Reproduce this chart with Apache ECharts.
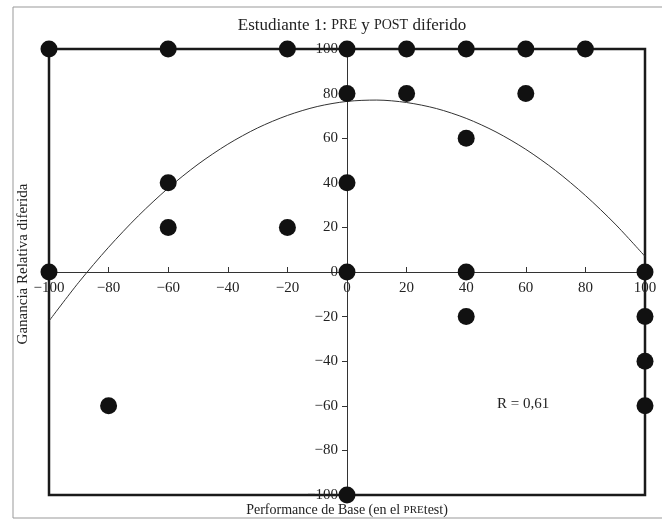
<!DOCTYPE html>
<html>
<head>
<meta charset="utf-8">
<script src="https://cdn.jsdelivr.net/npm/echarts@6/dist/echarts.min.js"></script>
<style>
    html, body { margin: 0; padding: 0; background: #fff; }
    #chart { width: 662px; height: 522px; }
</style>
</head>
<body>
<div id="chart"></div>
<script>
// students: base performance (PRE) vs delayed relative gain
const baseScores = [-100, -60, -20, 0, 20, 40, 60, 80, 0, 20, 60, 40, -60, 0, -60, -20, -100, 0, 40, 100, 40, 100, 100, 100, -80, 0];
const gainScores = [100, 100, 100, 100, 100, 100, 100, 100, 80, 80, 80, 60, 40, 40, 20, 20, 0, 0, 0, 0, -20, -20, -40, -60, -60, -100];

// fitted curve
const curveX = [-100, -90, -80, -70, -60, -50, -40, -30, -20, -10, 0, 10, 20, 30, 40, 50, 60, 70, 80, 90, 100];
const curveY = [-22, -4.6, 11.1, 25.2, 37.6, 48.3, 57.3, 64.6, 70.2, 74.2, 76.5, 77.1, 76.0, 73.3, 68.9, 62.8, 55.0, 45.5, 34.3, 21.5, 7];

const axisMin = -100;
const axisMax = 100;
const axisStep = 20;

const serif = '"Liberation Serif", "DejaVu Serif", serif';
const fmt = v => String(v).replace('-', '\u2212');

const gridLeft = 49, gridRight = 17, gridTop = 49, gridBottom = 27;
const gridW = 662 - gridLeft - gridRight;
const gridH = 522 - gridTop - gridBottom;

const chart = echarts.init(document.getElementById('chart'));

chart.setOption({
    animation: false,
    backgroundColor: '#fff',
    title: {
        text: '{a|Estudiante 1: }{b|PRE}{a| y }{b|POST}{a| diferido}',
        left: 347,
        textAlign: 'center',
        top: 12,
        textStyle: {
            rich: {
                a: {fontFamily: serif, fontSize: 17, fontWeight: 'normal', color: '#222'},
                b: {fontFamily: serif, fontSize: 14, fontWeight: 'normal', color: '#222'}
            }
        }
    },
    grid: {
        left: gridLeft, right: gridRight, top: gridTop, bottom: gridBottom,
        show: true,
        borderColor: '#1a1a1a',
        borderWidth: 2.5,
        backgroundColor: 'transparent'
    },
    xAxis: {
        type: 'value',
        min: axisMin, max: axisMax, interval: axisStep,
        offset: -gridH / 2,
        axisLine: {onZero: false, lineStyle: {color: '#333', width: 1}},
        axisTick: {inside: true, length: 5, lineStyle: {color: '#333'}},
        axisLabel: {
            formatter: fmt, fontFamily: serif, fontSize: 15, color: '#222', margin: 9,
            showMinLabel: true, showMaxLabel: true
        },
        splitLine: {show: false}
    },
    yAxis: {
        type: 'value',
        min: axisMin, max: axisMax, interval: axisStep,
        offset: -gridW / 2,
        axisLine: {onZero: false, lineStyle: {color: '#333', width: 1}},
        axisTick: {length: 5, lineStyle: {color: '#333'}},
        axisLabel: {
            formatter: fmt, fontFamily: serif, fontSize: 15, color: '#222', margin: 9,
            showMinLabel: true, showMaxLabel: true
        },
        splitLine: {show: false}
    },
    graphic: [
        {
            type: 'rect',
            shape: {x: 13, y: 7, width: 680, height: 511},
            style: {fill: 'none', stroke: '#999', lineWidth: 1},
            z: -1
        },
        {
            type: 'text',
            x: 23, y: 264,
            rotation: Math.PI / 2,
            style: {
                text: 'Ganancia Relativa diferida', font: '15px ' + serif, fill: '#222',
                align: 'center', verticalAlign: 'middle'
            }
        },
        {
            type: 'text',
            x: 347, y: 510,
            style: {
                text: '{a|Performance de Base (en el }{b|PRE}{a|test)}',
                align: 'center', verticalAlign: 'middle',
                rich: {
                    a: {fontFamily: serif, fontSize: 14, fill: '#222'},
                    b: {fontFamily: serif, fontSize: 11, fill: '#222'}
                }
            }
        },
        {
            type: 'text',
            left: 497, top: 397,
            style: {text: 'R = 0,61', font: '15px ' + serif, fill: '#222'}
        }
    ],
    series: [
        {
            type: 'line',
            data: curveX.map((x, i) => [x, curveY[i]]),
            smooth: 0.3,
            symbol: 'none',
            lineStyle: {color: '#333', width: 1},
            z: 1
        },
        {
            type: 'scatter',
            data: baseScores.map((x, i) => [x, gainScores[i]]),
            symbolSize: 17,
            itemStyle: {color: '#111', opacity: 1},
            z: 3
        }
    ]
});
</script>
</body>
</html>
